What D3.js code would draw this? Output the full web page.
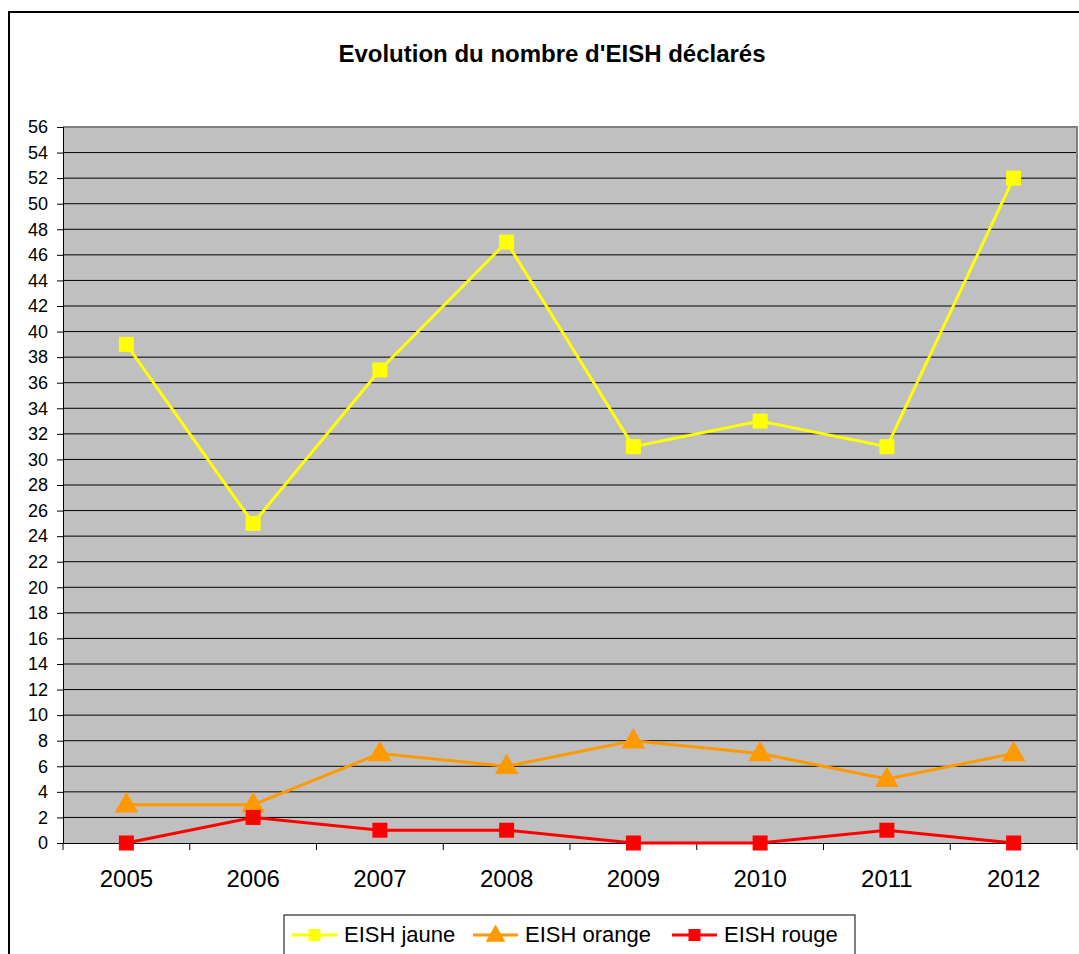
<!DOCTYPE html>
<html><head><meta charset="utf-8">
<script src="https://cdn.jsdelivr.net/npm/d3@7"></script>
<style>body{margin:0;background:#fff}svg{display:block}</style>
</head><body>
<script>
const years = ["2005","2006","2007","2008","2009","2010","2011","2012"];
const jaune = [39,25,37,47,31,33,31,52];
const orange = [3,3,7,6,8,7,5,7];
const rouge = [0,2,1,1,0,0,1,0];
const yTicks = d3.range(0,57,2);
const seriesNames = ["EISH jaune","EISH orange","EISH rouge"];
const seriesColors = ["#FFFF00","#FF9900","#FF0000"];
const seriesShapes = ["square","triangle","square"];

const W=1079,H=954;
const svg=d3.select("body").append("svg").attr("width",W).attr("height",H);
svg.append("rect").attr("x",9).attr("y",12).attr("width",1100).attr("height",1000)
  .attr("fill","#fff").attr("stroke","#000").attr("stroke-width",2);

const L=63,R=1077,T=127,B=843;
const x=d3.scaleBand().domain(years).range([L,R]);
const y=d3.scaleLinear().domain([0,56]).range([B,T]);
const FF="Arial, Liberation Sans, sans-serif";

svg.append("text").attr("x",552).attr("y",62).attr("text-anchor","middle")
  .attr("font-family",FF).attr("font-weight","bold").attr("font-size",24)
  .text("Evolution du nombre d'EISH déclarés");

svg.append("rect").attr("x",L).attr("y",T).attr("width",R-L).attr("height",B-T).attr("fill","#C0C0C0");
svg.append("g").selectAll("line").data(yTicks.filter(d=>d>0&&d<56)).join("line")
  .attr("x1",L).attr("x2",R).attr("y1",d=>y(d)).attr("y2",d=>y(d)).attr("stroke","#000").attr("stroke-width",1);
svg.append("path").attr("d",`M${L},${T}H${R}V${B}`).attr("fill","none").attr("stroke","#808080").attr("stroke-width",2);

const ya=svg.append("g").attr("transform",`translate(${L},0)`)
  .call(d3.axisLeft(y).tickValues(yTicks).tickSize(6).tickPadding(9));
ya.select(".domain").attr("stroke","#000");
ya.selectAll("text").attr("font-family",FF).attr("font-size",18).attr("fill","#000");

const xa=svg.append("g").attr("transform",`translate(0,${B})`)
  .call(d3.axisBottom(x).tickSize(0).tickPadding(27));
xa.select(".domain").attr("stroke","#000");
xa.selectAll("text").attr("font-family",FF).attr("font-size",24).attr("fill","#000");
const bounds=years.map(d=>x(d)).concat([R]);
svg.append("g").selectAll("line").data(bounds).join("line")
  .attr("x1",d=>d).attr("x2",d=>d).attr("y1",B).attr("y2",B+7).attr("stroke","#000");

const line=d3.line().x((d,i)=>x(years[i])+x.bandwidth()/2).y(d=>y(d));
function marker(g,shape,color,cx,cy,s){
  if(shape==="square") g.append("rect").attr("x",cx-s/2).attr("y",cy-s/2).attr("width",s).attr("height",s).attr("fill",color);
  else g.append("path").attr("d",d3.symbol(d3.symbolTriangle,s*s*0.75)()).attr("transform",`translate(${cx},${cy+1})`).attr("fill",color);
}
[jaune,orange,rouge].forEach((data,k)=>{
  const g=svg.append("g");
  g.append("path").attr("d",line(data)).attr("fill","none").attr("stroke",seriesColors[k]).attr("stroke-width",3);
  data.forEach((v,i)=>marker(g,seriesShapes[k],seriesColors[k],x(years[i])+x.bandwidth()/2,y(v),k===1?18:15));
});

const lg=svg.append("g");
lg.append("rect").attr("x",284).attr("y",915).attr("width",571).attr("height",50).attr("fill","#fff").attr("stroke","#000");
const starts=[292,473,672];
seriesNames.forEach((n,k)=>{
  const sx=starts[k], cy=935;
  lg.append("line").attr("x1",sx).attr("x2",sx+45).attr("y1",cy).attr("y2",cy).attr("stroke",seriesColors[k]).attr("stroke-width",3);
  marker(lg,seriesShapes[k],seriesColors[k],sx+22.5,cy,k===1?15:12);
  lg.append("text").attr("x",sx+52).attr("y",942).attr("font-family",FF).attr("font-size",22).attr("fill","#000").text(n);
});
</script>
</body></html>
